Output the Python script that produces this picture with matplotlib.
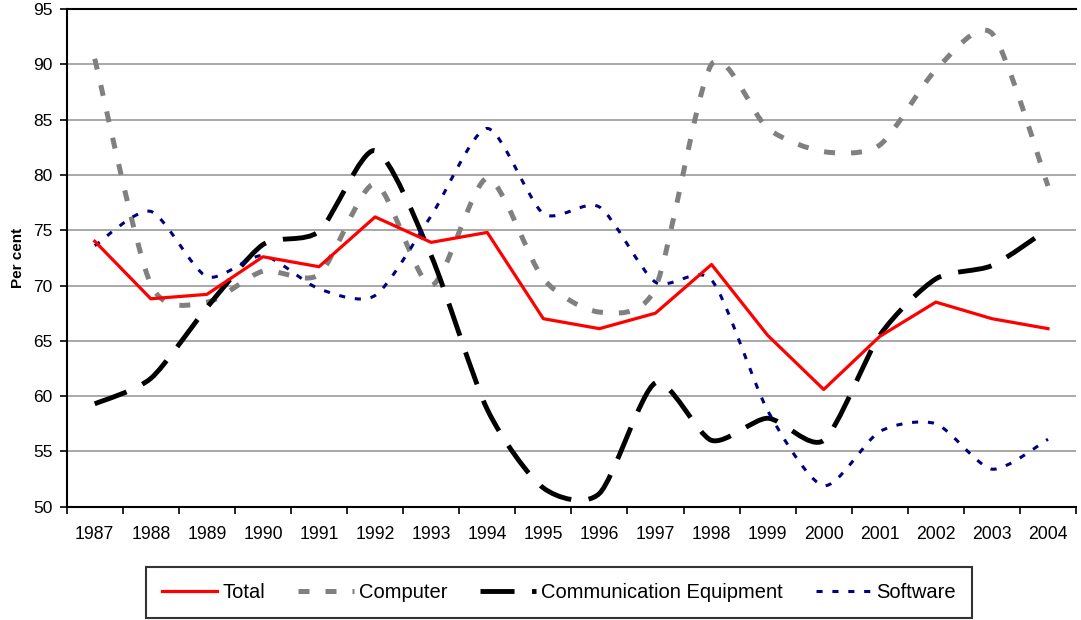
"""
Share of output by segment, 1987-2004
"""
import matplotlib
matplotlib.use('Agg')
import matplotlib.pyplot as plt
from matplotlib.path import Path
from matplotlib.patches import PathPatch
from matplotlib.lines import Line2D

plt.rcParams['font.family'] = ['Liberation Sans', 'DejaVu Sans']

# 数据
years = [str(y) for y in range(1987, 2005)]
total = [74.0, 68.8, 69.2, 72.6, 71.7, 76.2, 73.9, 74.8, 67.0, 66.1,
         67.5, 71.9, 65.5, 60.6, 65.4, 68.5, 67.0, 66.1]
computer = [90.5, 70.1, 68.5, 71.3, 71.0, 79.2, 70.0, 79.7, 70.6, 67.6,
            69.8, 90.0, 84.2, 82.1, 82.7, 89.5, 92.8, 79.0]
comm_equip = [59.3, 61.6, 68.0, 73.7, 74.9, 82.2, 72.7, 58.8, 51.7, 51.2,
              61.2, 56.0, 58.0, 56.0, 65.5, 70.6, 71.8, 75.1]
software = [73.6, 76.7, 70.8, 72.7, 69.7, 69.1, 76.3, 84.2, 76.5, 77.1,
            70.3, 70.5, 58.7, 51.9, 56.8, 57.5, 53.4, 56.1]


def smooth_path(ys, k=1 / 8):
    """Excel风格的平滑线：Catmull-Rom 转成三次贝塞尔"""
    pts = list(enumerate(ys))
    n = len(pts)
    verts = [pts[0]]
    codes = [Path.MOVETO]
    for i in range(n - 1):
        p0 = pts[max(i - 1, 0)]
        p1 = pts[i]
        p2 = pts[i + 1]
        p3 = pts[min(i + 2, n - 1)]
        c1 = (p1[0] + (p2[0] - p0[0]) * k, p1[1] + (p2[1] - p0[1]) * k)
        c2 = (p2[0] - (p3[0] - p1[0]) * k, p2[1] - (p3[1] - p1[1]) * k)
        verts += [c1, c2, p2]
        codes += [Path.CURVE4] * 3
    return Path(verts, codes)


fig = plt.figure(figsize=(10.81, 6.2), dpi=100)
ax = fig.add_axes([0.0617, 0.1827, 0.9337, 0.8028])

x = range(len(years))
ax.plot(x, total, color='#ff0000', lw=2.3, zorder=5)

gray_style = dict(color='#808080', lw=3.6, linestyle=(0, (2.2, 3.2)))
black_style = dict(color='black', lw=3.5, linestyle=(0, (7.0, 3.6)))
navy_style = dict(color='#000080', lw=2.2, linestyle=(0, (2.0, 3.2)))

for ys, st in [(computer, gray_style), (comm_equip, black_style), (software, navy_style)]:
    patch = PathPatch(smooth_path(ys), fill=False, capstyle='butt',
                      edgecolor=st['color'], linewidth=st['lw'],
                      linestyle=st['linestyle'], zorder=4)
    ax.add_patch(patch)

ax.set_xlim(-0.5, len(years) - 0.5)
ax.set_ylim(50, 95)
ax.set_yticks(range(50, 100, 5))
ax.set_xticks([i for i in x])
ax.set_xticklabels(years)
ax.set_xticks([i - 0.5 for i in range(len(years) + 1)], minor=True)
ax.tick_params(axis='x', which='major', length=0, pad=14, labelsize=12.7)
ax.tick_params(axis='x', which='minor', length=5, width=1.2, direction='out')
ax.tick_params(axis='y', length=5, width=1.2, direction='out', pad=5, labelsize=12.5)

ax.grid(axis='y', color='#999999', lw=1.2)
ax.set_axisbelow(True)
for s in ['left', 'bottom', 'top']:
    ax.spines[s].set_linewidth(1.5)
    ax.spines[s].set_color('black')
ax.spines['right'].set_visible(False)

ax.set_ylabel('Per cent', fontsize=11, fontweight='bold', labelpad=6)

handles = [
    Line2D([], [], color='#ff0000', lw=2.3),
    Line2D([], [], **gray_style),
    Line2D([], [], **black_style),
    Line2D([], [], **navy_style),
]
labels = ['Total', 'Computer', 'Communication Equipment', 'Software']
leg = fig.legend(handles, labels, loc='center', bbox_to_anchor=(0.517, 0.0444),
                 ncol=4, frameon=True, fancybox=False, fontsize=14.5,
                 handlelength=2.75, handletextpad=0.25, columnspacing=1.65,
                 borderpad=0.8)
leg.get_frame().set_edgecolor('black')
leg.get_frame().set_linewidth(1.5)

plt.savefig('out.png', dpi=100)
plt.close()
